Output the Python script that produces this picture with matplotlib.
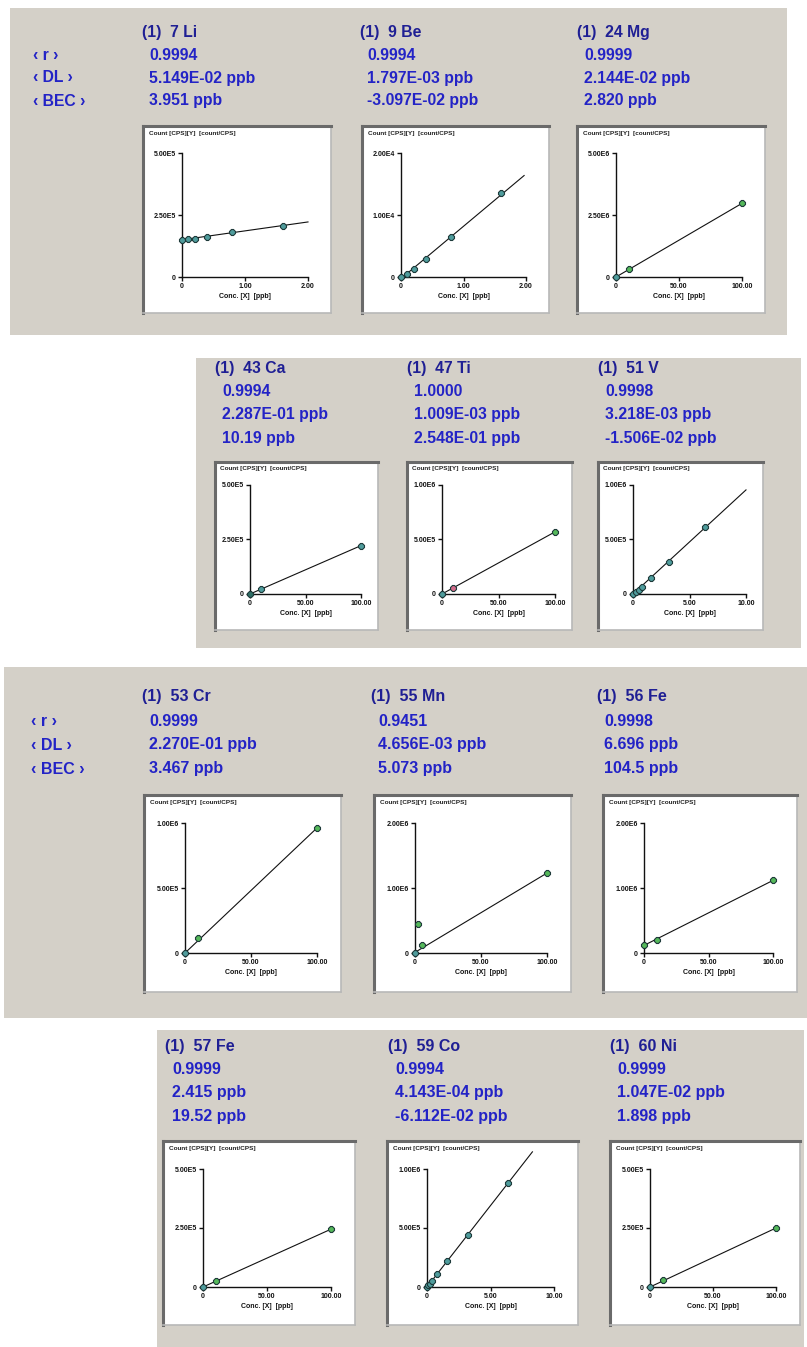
import matplotlib
matplotlib.use("Agg")
import matplotlib.pyplot as plt
from matplotlib.patches import Rectangle

W, H = 807, 1347

# ---------------- data ----------------
elements = ["7 Li", "9 Be", "24 Mg", "43 Ca", "47 Ti", "51 V",
            "53 Cr", "55 Mn", "56 Fe", "57 Fe", "59 Co", "60 Ni"]
r_vals = ["0.9994", "0.9994", "0.9999", "0.9994", "1.0000", "0.9998",
          "0.9999", "0.9451", "0.9998", "0.9999", "0.9994", "0.9999"]
dl_vals = ["5.149E-02 ppb", "1.797E-03 ppb", "2.144E-02 ppb", "2.287E-01 ppb",
           "1.009E-03 ppb", "3.218E-03 ppb", "2.270E-01 ppb", "4.656E-03 ppb",
           "6.696 ppb", "2.415 ppb", "4.143E-04 ppb", "1.047E-02 ppb"]
bec_vals = ["3.951 ppb", "-3.097E-02 ppb", "2.820 ppb", "10.19 ppb",
            "2.548E-01 ppb", "-1.506E-02 ppb", "3.467 ppb", "5.073 ppb",
            "104.5 ppb", "19.52 ppb", "-6.112E-02 ppb", "1.898 ppb"]

# calibration standards (conc ppb) and counts
li_x = [0, 0.1, 0.2, 0.4, 0.8, 1.6]
li_y = [150e3, 153e3, 155e3, 161e3, 180e3, 207e3]
be_x = [0, 0.1, 0.2, 0.4, 0.8, 1.6]
be_y = [0, 540, 1300, 2920, 6380, 13500]
mg_x = [0, 10, 100]
mg_y = [0, 338e3, 2.97e6]
ca_x = [0, 10, 100]
ca_y = [0, 24e3, 222e3]
ti_x = [0, 10, 100]
ti_y = [0, 55e3, 570e3]
v_x = [0, 0.3, 0.5, 0.8, 1.6, 3.2, 6.4]
v_y = [0, 21e3, 36e3, 66e3, 150e3, 295e3, 611e3]
cr_x = [0, 10, 100]
cr_y = [0, 115e3, 962e3]
mn_x = [0, 2, 5, 100]
mn_y = [0, 446e3, 128e3, 1.23e6]
fe56_x = [0, 10, 100]
fe56_y = [117e3, 204e3, 1.12e6]
fe57_x = [0, 10, 100]
fe57_y = [0, 27e3, 245e3]
co_x = [0, 0.1, 0.2, 0.4, 0.8, 1.6, 3.2, 6.4]
co_y = [0, 14e3, 28e3, 55e3, 110e3, 220e3, 440e3, 880e3]
ni_x = [0, 10, 100]
ni_y = [0, 30e3, 250e3]

# fitted calibration lines (intercept, slope, end concentration)
fit_intercept = [150e3, -260, 0, 0, 0, 0, 0, 10e3, 117e3, 0, 0, 0]
fit_slope = [36e3, 8440, 29.7e3, 2.22e3, 5.7e3, 95.5e3, 9.62e3, 12.2e3, 10.0e3, 2.45e3, 138e3, 2.5e3]
fit_xend = [2.0, 1.97, 100, 100, 100, 10.0, 100, 100, 100, 100, 8.3, 100]

# axis ticks
x_max = [2.0, 2.0, 100, 100, 100, 10, 100, 100, 100, 100, 10, 100]
x_ticklabels = [["0", "1.00", "2.00"]] * 2 + [["0", "50.00", "100.00"]] * 3 + \
               [["0", "5.00", "10.00"]] + [["0", "50.00", "100.00"]] * 4 + \
               [["0", "5.00", "10.00"]] + [["0", "50.00", "100.00"]]
y_max = [5e5, 2e4, 5e6, 5e5, 1e6, 1e6, 1e6, 2e6, 2e6, 5e5, 1e6, 5e5]
y_ticklabels = [["0", "2.50E5", "5.00E5"], ["0", "1.00E4", "2.00E4"], ["0", "2.50E6", "5.00E6"],
                ["0", "2.50E5", "5.00E5"], ["0", "5.00E5", "1.00E6"], ["0", "5.00E5", "1.00E6"],
                ["0", "5.00E5", "1.00E6"], ["0", "1.00E6", "2.00E6"], ["0", "1.00E6", "2.00E6"],
                ["0", "2.50E5", "5.00E5"], ["0", "5.00E5", "1.00E6"], ["0", "2.50E5", "5.00E5"]]

xs = [li_x, be_x, mg_x, ca_x, ti_x, v_x, cr_x, mn_x, fe56_x, fe57_x, co_x, ni_x]
ys = [li_y, be_y, mg_y, ca_y, ti_y, v_y, cr_y, mn_y, fe56_y, fe57_y, co_y, ni_y]

TEAL, GREEN, PINK, DTEAL = "#4f9c9c", "#55b85a", "#d26a8a", "#2f6f66"
point_colors = [
    [TEAL] * 6, [TEAL] * 6, [TEAL, GREEN, GREEN], [DTEAL, TEAL, TEAL],
    [TEAL, PINK, GREEN], [TEAL] * 7, [TEAL, GREEN, GREEN], [TEAL, GREEN, GREEN, GREEN],
    [GREEN, GREEN, GREEN], [TEAL, GREEN, GREEN], [TEAL] * 8, [TEAL, GREEN, GREEN]]

# ---------------- layout (pixels) ----------------
panels = [(10, 8, 787, 335), (196, 358, 801, 648), (4, 667, 807, 1018), (157, 1030, 804, 1347)]
PANEL_BG = "#d4d0c8"
head_y = [32, 369, 697, 1047]
row_dy = [23, 23, 24, 23]
col_x = [[142, 360, 577], [215, 407, 598], [142, 371, 597], [165, 388, 610]]
label_x = [33, None, 31, None]
box_y = [(126, 313), (462, 630), (795, 992), (1141, 1325)]
box_x = [[(143, 331), (362, 549), (577, 765)],
         [(215, 378), (407, 572), (598, 763)],
         [(144, 341), (374, 571), (603, 797)],
         [(163, 355), (387, 578), (610, 800)]]
inner_off = [(39, 23, 27, 36), (35, 17, 23, 36), (41, 24, 28, 39), (40, 24, 28, 38)]
text_font = [("Liberation Sans", 11.3), ("Liberation Sans", 11.3),
             ("Liberation Sans", 11.5), ("Liberation Sans", 11.5)]

HEAD_C = "#1f1f94"
VAL_C = "#2323c6"

fig = plt.figure(figsize=(W / 100, H / 100), dpi=100)
fig.patch.set_facecolor("white")


def frect(x0, y0, x1, y1):
    return [x0 / W, 1 - y1 / H, (x1 - x0) / W, (y1 - y0) / H]


def fx(x):
    return x / W


def fy(y):
    return 1 - y / H


for p, (x0, y0, x1, y1) in enumerate(panels):
    fig.patches.append(Rectangle((fx(x0), fy(y1)), (x1 - x0) / W, (y1 - y0) / H,
                                 transform=fig.transFigure, facecolor=PANEL_BG,
                                 edgecolor="none", zorder=-5))
    fam, fs = text_font[p]
    if label_x[p] is not None:
        for k, lab in enumerate(["\u2039 r \u203a", "\u2039 DL \u203a", "\u2039 BEC \u203a"]):
            fig.text(fx(label_x[p]), fy(head_y[p] + row_dy[p] * (k + 1)), lab, color=VAL_C,
                     fontsize=fs, fontweight="bold", family=[fam, "DejaVu Sans"], va="center")
    for c in range(3):
        i = p * 3 + c
        cx = col_x[p][c]
        fig.text(fx(cx), fy(head_y[p]), "(1)  " + elements[i], color=HEAD_C, fontsize=fs,
                 fontweight="bold", family=[fam, "DejaVu Sans"], va="center")
        for k, s in enumerate([r_vals[i], dl_vals[i], bec_vals[i]]):
            fig.text(fx(cx + 7), fy(head_y[p] + row_dy[p] * (k + 1)), s, color=VAL_C,
                     fontsize=fs, fontweight="bold", family=[fam, "DejaVu Sans"], va="center")

        bx0, bx1 = box_x[p][c]
        by0, by1 = box_y[p]
        box = fig.add_axes(frect(bx0, by0, bx1, by1), zorder=1)
        box.set_facecolor("white")
        box.set_xticks([]); box.set_yticks([])
        for side, col, lw in [("top", "#6a6a6a", 2.2), ("left", "#6a6a6a", 2.2),
                              ("right", "#b8b8b8", 1.2), ("bottom", "#b8b8b8", 1.2)]:
            box.spines[side].set_color(col)
            box.spines[side].set_linewidth(lw)
        box.text(0.03, 0.975, "Count [CPS][Y]  [count/CPS]", transform=box.transAxes,
                 fontsize=4.6, family="Liberation Sans", fontweight="bold",
                 va="top", ha="left", color="#222222")

        L, R, T, B = inner_off[p]
        ax = fig.add_axes(frect(bx0 + L, by0 + T, bx1 - R, by1 - B), zorder=2)
        ax.patch.set_alpha(0)
        for side in ["top", "right"]:
            ax.spines[side].set_visible(False)
        for side in ["left", "bottom"]:
            ax.spines[side].set_color("#111111")
            ax.spines[side].set_linewidth(1.0)
        ax.set_xlim(0, x_max[i])
        ax.set_ylim(0, y_max[i])
        ax.set_xticks([0, x_max[i] / 2, x_max[i]])
        ax.set_xticklabels(x_ticklabels[i])
        ax.set_yticks([0, y_max[i] / 2, y_max[i]])
        ax.set_yticklabels(y_ticklabels[i])
        ax.tick_params(direction="out", length=3, width=1, pad=1.5, labelsize=5.0,
                       colors="#111111")
        for t in ax.get_xticklabels() + ax.get_yticklabels():
            t.set_family("Liberation Sans")
            t.set_fontweight("bold")
        ax.set_xlabel("Conc. [X]  [ppb]", fontsize=5.0, family="Liberation Sans",
                      fontweight="bold", labelpad=2, color="#111111")
        xe = fit_xend[i]
        ax.plot([0, xe], [fit_intercept[i], fit_intercept[i] + fit_slope[i] * xe],
                color="#111111", lw=0.8, clip_on=False, zorder=2)
        for xv, yv, col in zip(xs[i], ys[i], point_colors[i]):
            ax.plot([xv], [yv], marker="8", ms=5.4, mfc=col, mec="#1e3a3a", mew=0.8,
                    clip_on=False, zorder=3, linestyle="none")

fig.savefig("out.png", dpi=100, facecolor="white")
